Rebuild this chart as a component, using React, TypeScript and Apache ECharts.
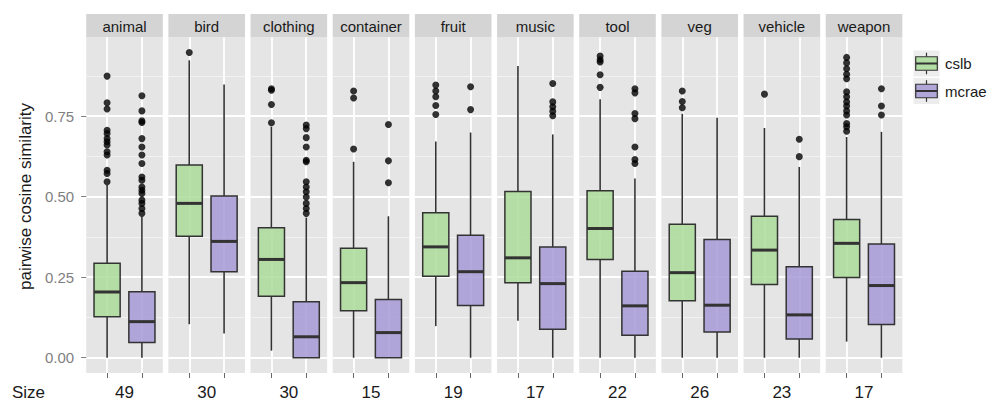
import React, { useEffect, useRef } from 'react';
import * as echarts from 'echarts';

// ---------- data ----------
const categories = ['animal', 'bird', 'clothing', 'container', 'fruit', 'music', 'tool', 'veg', 'vehicle', 'weapon'];
const groups = ['cslb', 'mcrae'];
const sizes = [49, 30, 30, 15, 19, 17, 22, 26, 23, 17];
const yTicks = [0, 0.25, 0.5, 0.75];
const xTicks = [1, 2];

// [lower whisker, Q1, median, Q3, upper whisker]
const cslbStats = [
  [0, 0.127, 0.204, 0.293, 0.536],
  [0.104, 0.377, 0.479, 0.598, 0.923],
  [0.022, 0.191, 0.305, 0.403, 0.717],
  [0, 0.146, 0.233, 0.34, 0.608],
  [0.098, 0.253, 0.344, 0.45, 0.671],
  [0.115, 0.233, 0.31, 0.516, 0.905],
  [0, 0.305, 0.401, 0.518, 0.802],
  [0, 0.177, 0.264, 0.414, 0.757],
  [0, 0.227, 0.334, 0.439, 0.713],
  [0.05, 0.249, 0.355, 0.429, 0.685],
];
const mcraeStats = [
  [0, 0.047, 0.112, 0.205, 0.437],
  [0.075, 0.267, 0.361, 0.502, 0.848],
  [0, 0, 0.065, 0.174, 0.435],
  [0, 0, 0.078, 0.181, 0.439],
  [0, 0.162, 0.267, 0.38, 0.699],
  [0, 0.088, 0.23, 0.344, 0.693],
  [0, 0.07, 0.161, 0.268, 0.556],
  [0, 0.08, 0.163, 0.367, 0.745],
  [0, 0.058, 0.133, 0.282, 0.592],
  [0, 0.103, 0.224, 0.353, 0.701],
];
const cslbOutliers = [
  [0.874, 0.791, 0.772, 0.706, 0.696, 0.68, 0.67, 0.66, 0.639, 0.629, 0.582, 0.572, 0.546],
  [0.947],
  [0.835, 0.83, 0.786, 0.729],
  [0.828, 0.806, 0.648],
  [0.846, 0.828, 0.81, 0.783, 0.755],
  [],
  [0.936, 0.925, 0.918, 0.878, 0.839],
  [0.828, 0.795, 0.776],
  [0.818],
  [0.932, 0.915, 0.897, 0.88, 0.866, 0.825, 0.81, 0.794, 0.781, 0.766, 0.753, 0.727, 0.717, 0.703],
];
const mcraeOutliers = [
  [0.813, 0.766, 0.735, 0.73, 0.68, 0.654, 0.629, 0.603, 0.561, 0.551, 0.53, 0.52, 0.51, 0.489, 0.479, 0.463, 0.448],
  [],
  [0.722, 0.711, 0.683, 0.654, 0.613, 0.608, 0.546, 0.53, 0.515, 0.499, 0.479, 0.463, 0.448],
  [0.724, 0.611, 0.543],
  [0.841, 0.77],
  [0.851, 0.794, 0.779, 0.765, 0.751],
  [0.835, 0.822, 0.758, 0.742, 0.654, 0.615, 0.603],
  [],
  [0.678, 0.624],
  [0.835, 0.781, 0.753],
];

// ---------- layout / style ----------
const PANEL_LEFT = 86.2;
const PANEL_PITCH = 82.17;
const PANEL_W = 76.6;
const STRIP_TOP = 14;
const PANEL_TOP = 37.3;
const PANEL_BOTTOM = 373;
const Y_MIN = -0.0474;
const Y_MAX = 0.9944;
const FONT = '"Liberation Sans", Arial, Helvetica, sans-serif';
const FILLS = ['rgba(171,220,154,0.85)', 'rgba(167,154,214,0.85)'];
const KEY_FILLS = ['#B3DEA6', '#B0A6D8'];
const STROKE = '#333333';

export default function App() {
  const ref = useRef<HTMLDivElement>(null);

  useEffect(() => {
    const chart = echarts.init(ref.current as HTMLDivElement, null, { renderer: 'svg' });
    const grid: any[] = [];
    const xAxis: any[] = [];
    const yAxis: any[] = [];
    const series: any[] = [];
    const graphic: any[] = [];

    categories.forEach((cat, i) => {
      const left = PANEL_LEFT + i * PANEL_PITCH;
      grid.push({
        left,
        top: PANEL_TOP,
        width: PANEL_W,
        height: PANEL_BOTTOM - PANEL_TOP,
        show: true,
        backgroundColor: '#E5E5E5',
        borderWidth: 0,
        containLabel: false,
        outerBoundsMode: 'none',
      });
      xAxis.push({
        type: 'value',
        gridIndex: i,
        position: 'bottom',
        min: 0.4,
        max: 2.6,
        minInterval: 1,
        maxInterval: 1,
        axisLine: { show: false, onZero: false },
        axisTick: { show: true, customValues: xTicks, length: 5, lineStyle: { color: '#666666', width: 1 } },
        axisLabel: {
          show: true,
          customValues: [1.5],
          formatter: () => String(sizes[i]),
          fontSize: 17,
          fontFamily: FONT,
          color: '#1A1A1A',
          margin: 11,
        },
        splitLine: { show: true, lineStyle: { color: '#FFFFFF', width: 1.8 } },
      });
      yAxis.push({
        type: 'value',
        gridIndex: i,
        min: Y_MIN,
        max: Y_MAX,
        minInterval: 0.25,
        maxInterval: 0.25,
        axisLine: { show: false, onZero: false },
        axisTick: { show: i === 0, customValues: yTicks, length: 5, lineStyle: { color: '#7F7F7F', width: 1 } },
        axisLabel: {
          show: i === 0,
          customValues: yTicks,
          formatter: (v: number) => v.toFixed(2),
          fontSize: 15,
          fontFamily: FONT,
          color: '#7F7F7F',
          margin: 12,
        },
        splitLine: { show: true, lineStyle: { color: '#FFFFFF', width: 1.8 } },
        minorTick: { show: false, splitNumber: 2 },
        minorSplitLine: { show: true, lineStyle: { color: '#F2F2F2', width: 1 } },
      });

      series.push({
        type: 'custom',
        name: cat,
        xAxisIndex: i,
        yAxisIndex: i,
        encode: { x: 0, y: [1, 2, 3, 4, 5] },
        data: [
          [1, ...cslbStats[i]],
          [2, ...mcraeStats[i]],
        ],
        renderItem: (params: any, api: any) => {
          const x = api.value(0);
          const pMin = api.coord([x, api.value(1)]);
          const pQ1 = api.coord([x, api.value(2)]);
          const pMed = api.coord([x, api.value(3)]);
          const pQ3 = api.coord([x, api.value(4)]);
          const pMax = api.coord([x, api.value(5)]);
          const l = api.coord([x - 0.375, api.value(3)])[0];
          const r = api.coord([x + 0.375, api.value(3)])[0];
          const cx = pMed[0];
          return {
            type: 'group',
            children: [
              { type: 'line', shape: { x1: cx, y1: pMax[1], x2: cx, y2: pQ3[1] }, style: { stroke: STROKE, lineWidth: 1.6 } },
              { type: 'line', shape: { x1: cx, y1: pQ1[1], x2: cx, y2: pMin[1] }, style: { stroke: STROKE, lineWidth: 1.6 } },
              {
                type: 'rect',
                shape: { x: l, y: pQ3[1], width: r - l, height: pQ1[1] - pQ3[1] },
                style: { fill: FILLS[params.dataIndex], stroke: STROKE, lineWidth: 1.5 },
              },
              { type: 'line', shape: { x1: l, y1: pMed[1], x2: r, y2: pMed[1] }, style: { stroke: STROKE, lineWidth: 3 } },
            ],
          };
        },
        z: 2,
      });

      series.push({
        type: 'scatter',
        name: cat + ' outliers',
        xAxisIndex: i,
        yAxisIndex: i,
        symbol: 'circle',
        symbolSize: 7,
        itemStyle: { color: '#000000' },
        data: [
          ...cslbOutliers[i].map((v) => [1, v]),
          ...mcraeOutliers[i].map((v) => [2, v]),
        ],
        z: 3,
      });

      // facet strip
      graphic.push({
        type: 'rect',
        shape: { x: left, y: STRIP_TOP, width: PANEL_W, height: PANEL_TOP - STRIP_TOP },
        style: { fill: '#D4D4D4' },
        silent: true,
      });
      graphic.push({
        type: 'text',
        x: left + PANEL_W / 2,
        y: (STRIP_TOP + PANEL_TOP) / 2 + 0.5,
        style: {
          text: cat,
          fontSize: 15,
          fontFamily: FONT,
          fill: '#1A1A1A',
          align: 'center',
          verticalAlign: 'middle',
        },
        silent: true,
      });
    });

    // axis title & "Size"
    graphic.push({
      type: 'text',
      x: 25,
      y: 196.5,
      rotation: Math.PI / 2,
      style: {
        text: 'pairwise cosine similarity',
        fontSize: 17,
        fontFamily: FONT,
        fill: '#1A1A1A',
        align: 'center',
        verticalAlign: 'middle',
      },
      silent: true,
    });
    graphic.push({
      type: 'text',
      x: 12,
      y: 392,
      style: { text: 'Size', fontSize: 17, fontFamily: FONT, fill: '#1A1A1A', align: 'left', verticalAlign: 'middle' },
      silent: true,
    });

    // legend
    groups.forEach((g, k) => {
      const kx = 913;
      const ky = 50 + k * 27.5;
      const ks = 27;
      graphic.push({ type: 'rect', shape: { x: kx, y: ky, width: ks, height: ks }, style: { fill: '#EDEDED', stroke: '#FFFFFF', lineWidth: 1 }, silent: true });
      graphic.push({ type: 'line', shape: { x1: kx + ks / 2, y1: ky + ks * 0.1, x2: kx + ks / 2, y2: ky + ks * 0.25 }, style: { stroke: STROKE, lineWidth: 1.2 }, silent: true });
      graphic.push({ type: 'line', shape: { x1: kx + ks / 2, y1: ky + ks * 0.75, x2: kx + ks / 2, y2: ky + ks * 0.9 }, style: { stroke: STROKE, lineWidth: 1.2 }, silent: true });
      graphic.push({ type: 'rect', shape: { x: kx + ks * 0.1, y: ky + ks * 0.25, width: ks * 0.8, height: ks * 0.5 }, style: { fill: KEY_FILLS[k], stroke: STROKE, lineWidth: 1.2 }, silent: true });
      graphic.push({ type: 'line', shape: { x1: kx + ks * 0.1, y1: ky + ks / 2, x2: kx + ks * 0.9, y2: ky + ks / 2 }, style: { stroke: STROKE, lineWidth: 2 }, silent: true });
      graphic.push({
        type: 'text',
        x: 945,
        y: ky + ks / 2,
        style: { text: g, fontSize: 15, fontFamily: FONT, fill: '#1A1A1A', align: 'left', verticalAlign: 'middle' },
        silent: true,
      });
    });

    chart.setOption({
      animation: false,
      backgroundColor: '#FFFFFF',
      grid,
      xAxis,
      yAxis,
      series,
      graphic,
    });

    return () => {
      chart.dispose();
    };
  }, []);

  return (
    <div
      ref={ref}
      style={{ position: 'absolute', left: 0, top: 0, width: 987, height: 401, background: '#FFFFFF' }}
    />
  );
}
